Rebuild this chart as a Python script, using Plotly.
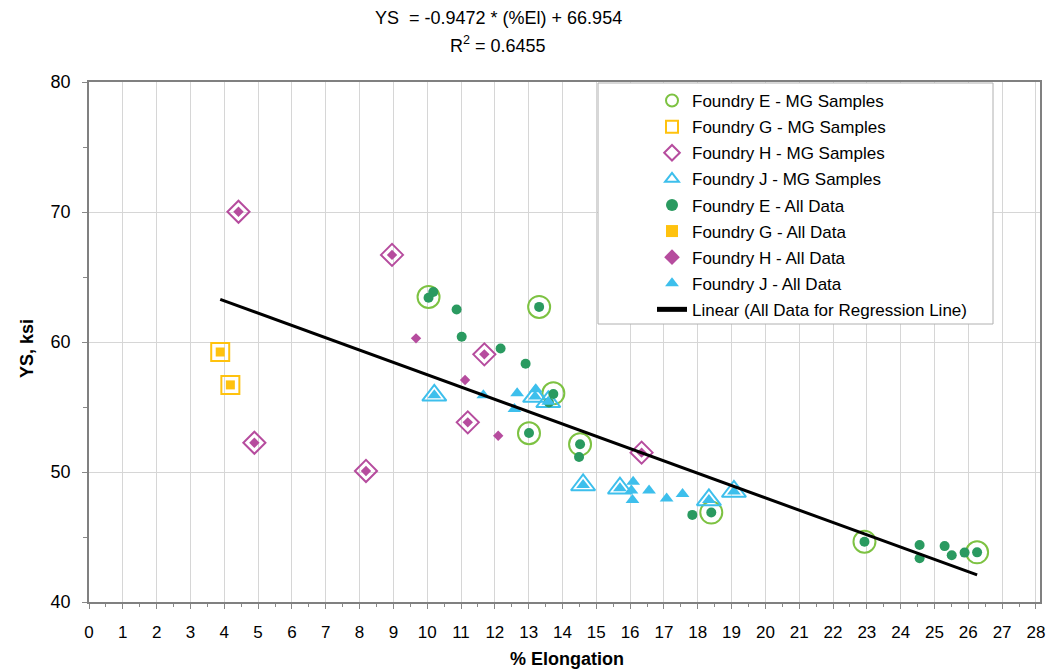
import plotly.graph_objects as go

# ---------------- data ----------------
E_MG_x = [10.04, 13.31, 13.73, 13.01, 14.52, 18.40, 22.93, 26.26]
E_MG_y = [63.46, 62.70, 56.05, 52.98, 52.13, 46.88, 44.64, 43.82]

G_MG_x = [3.88, 4.18]
G_MG_y = [59.23, 56.70]

H_MG_x = [4.42, 8.96, 11.69, 4.89, 8.19, 11.20, 16.34]
H_MG_y = [70.02, 66.70, 59.05, 52.25, 50.08, 53.82, 51.49]

J_MG_x = [10.21, 13.19, 13.58, 14.61, 15.70, 18.33, 19.07]
J_MG_y = [55.90, 55.80, 55.40, 49.00, 48.75, 47.85, 48.50]

E_All_x = [10.04, 10.18, 10.87, 11.02, 12.17, 12.91, 13.31, 13.73, 13.60, 13.01,
           14.52, 14.49, 17.84, 18.40, 22.93, 24.56, 24.56, 25.30, 25.51, 25.89, 26.26]
E_All_y = [63.40, 63.85, 62.50, 60.40, 59.50, 58.33, 62.70, 56.00, 55.35, 53.00,
           52.13, 51.15, 46.70, 46.88, 44.64, 44.38, 43.36, 44.30, 43.60, 43.80, 43.82]

G_All_x = [3.88, 4.18]
G_All_y = [59.23, 56.70]

H_All_x = [4.42, 8.96, 11.69, 4.89, 8.19, 11.20, 16.34, 9.67, 11.12, 12.10]
H_All_y = [70.02, 66.70, 59.05, 52.25, 50.08, 53.82, 51.49, 60.28, 57.08, 52.79]

J_All_x = [10.21, 13.19, 13.58, 14.61, 15.70, 18.33, 19.07,
           11.66, 12.66, 12.58, 13.21, 16.09, 16.04, 16.07, 16.56, 17.08, 17.55]
J_All_y = [55.90, 55.80, 55.40, 49.00, 48.75, 47.85, 48.50,
           55.90, 56.05, 54.85, 56.36, 49.25, 48.57, 47.85, 48.57, 47.97, 48.30]

slope = -0.9472
intercept = 66.954
r2 = 0.6455

x_ticks = list(range(0, 29))
y_ticks = [40, 50, 60, 70, 80]

# ---------------- styles ----------------
C_E_MG = "#7DC242"
C_E = "#2A9A60"
C_G = "#FFC20E"
C_H = "#B64C9E"
C_J = "#3DBFEC"
FONT = "Liberation Sans, Arial, sans-serif"

# page has an 8px body margin; plot area target in page px: x 89..1040, y 82..602
OFF = 8
PL, PR, PT, PB = 89, 1040, 82, 602
PW, PH = PR - PL, PB - PT

fig = go.Figure()

def add(name, x, y, symbol, size, color, lw=0):
    marker = dict(symbol=symbol, size=size, color=color, line=dict(width=lw, color=color))
    fig.add_trace(go.Scatter(x=x, y=y, mode="markers", name=name, marker=marker,
                             legendgroup=name))

add("Foundry E - MG Samples", E_MG_x, E_MG_y, "circle-open", 22, C_E_MG, 2)
add("Foundry G - MG Samples", G_MG_x, G_MG_y, "square-open", 18, C_G, 2)
add("Foundry H - MG Samples", H_MG_x, H_MG_y, "diamond-open", 17, C_H, 2)
add("Foundry J - MG Samples", J_MG_x, J_MG_y, "triangle-up-open", 21, C_J, 2)
add("Foundry E - All Data", E_All_x, E_All_y, "circle", 10, C_E)
add("Foundry G - All Data", G_All_x, G_All_y, "square", 9, C_G)
add("Foundry H - All Data", H_All_x, H_All_y, "diamond", 8, C_H)
add("Foundry J - All Data", J_All_x, J_All_y, "triangle-up", 12, C_J)

all_x = E_All_x + G_All_x + H_All_x + J_All_x
lx = [min(all_x), max(all_x)]
ly = [slope * v + intercept for v in lx]
fig.add_trace(go.Scatter(x=lx, y=ly, mode="lines", name="Linear (All Data for Regression Line)",
                         line=dict(color="black", width=3), legendgroup="lin"))

def px_x(p):
    return (p - PL) / PW

def px_y(p):
    return (PB - p) / PH

# legend box (frame)
fig.add_shape(type="rect", xref="paper", yref="paper",
              x0=px_x(598), x1=px_x(993), y0=px_y(324), y1=px_y(83),
              fillcolor="white", line=dict(color="#b0b0b0", width=1), layer="above")

fig.update_layout(
    width=1062 - OFF, height=670 - OFF,
    margin=dict(l=PL - OFF, r=1062 - PR, t=PT - OFF, b=670 - PB, autoexpand=False),
    paper_bgcolor="white", plot_bgcolor="white",
    font=dict(family=FONT, size=16, color="black"),
    showlegend=True,
    legend=dict(x=px_x(652), y=px_y(83), xanchor="left", yanchor="top",
                bgcolor="rgba(0,0,0,0)", borderwidth=0,
                font=dict(family=FONT, size=17, color="black"),
                itemsizing="constant", tracegroupgap=1),
    xaxis=dict(range=[0, 28.12], tickvals=x_ticks, ticktext=[str(v) for v in x_ticks],
               showgrid=True, gridcolor="#d6d6d6", gridwidth=1,
               ticks="outside", ticklen=5, tickcolor="#888888",
               minor=dict(dtick=0.5, ticks="outside", ticklen=3, tickcolor="#888888", showgrid=False),
               showline=True, linecolor="#808080", linewidth=1.5, mirror=True,
               zeroline=False, tickfont=dict(family=FONT, size=17),
               ticklabelstandoff=9),
    yaxis=dict(range=[40, 80], tickvals=y_ticks,
               showgrid=True, gridcolor="#d6d6d6", gridwidth=1,
               ticks="outside", ticklen=5, tickcolor="#888888",
               minor=dict(dtick=5, ticks="outside", ticklen=4, tickcolor="#888888", showgrid=False),
               showline=True, linecolor="#808080", linewidth=1.5, mirror=True,
               zeroline=False, tickfont=dict(family=FONT, size=18),
               ticklabelstandoff=8),
    annotations=[
        dict(text=f"YS  = {slope} * (%El) + {intercept}", xref="paper", yref="paper",
             x=px_x(498), y=px_y(18), xanchor="center", yanchor="middle",
             showarrow=False, font=dict(family=FONT, size=18)),
        dict(text=f"R<sup>2</sup> = {r2}", xref="paper", yref="paper",
             x=px_x(498), y=px_y(44), xanchor="center", yanchor="middle",
             showarrow=False, font=dict(family=FONT, size=18)),
        dict(text="<b>% Elongation</b>", xref="paper", yref="paper",
             x=px_x(567), y=px_y(659), xanchor="center", yanchor="middle",
             showarrow=False, font=dict(family=FONT, size=18)),
        dict(text="<b>YS, ksi</b>", xref="paper", yref="paper", textangle=-90,
             x=px_x(27), y=px_y(349), xanchor="center", yanchor="middle",
             showarrow=False, font=dict(family=FONT, size=18)),
    ],
)

fig.write_html("out.html")
